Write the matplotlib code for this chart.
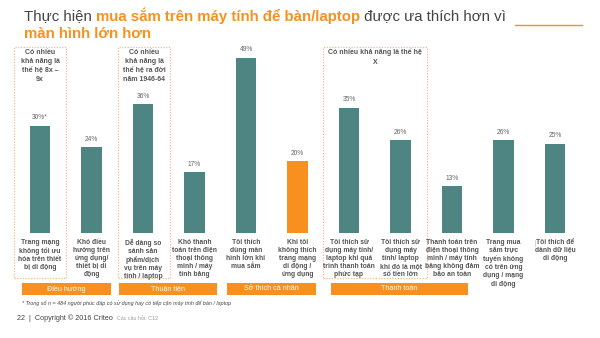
import matplotlib
matplotlib.use("Agg")
import matplotlib.pyplot as plt
from matplotlib.patches import Rectangle
from matplotlib import transforms

plt.rcParams['font.family'] = ['Liberation Sans', 'DejaVu Sans']

# Dữ liệu
values = [30, 24, 36, 17, 49, 20, 35, 26, 13, 26, 25]
value_labels = ["30%*", "24%", "36%", "17%", "49%", "20%", "35%", "26%", "13%", "26%", "25%"]
bar_labels = [
    "Trang mạng\nkhông tối ưu\nhóa trên thiết\nbị di động",
    "Khó điều\nhướng trên\nứng dụng/\nthiết bị di\nđộng",
    "Dễ dàng so\nsánh sản\nphẩm/dịch\nvụ trên máy\ntính / laptop",
    "Khó thanh\ntoán trên điện\nthoại thông\nminh / máy\ntính bảng",
    "Tôi thích\ndùng màn\nhình lớn khi\nmua sắm",
    "Khi tôi\nkhông thích\ntrang mạng\ndi động /\nứng dụng",
    "Tôi thích sử\ndụng máy tính/\nlaptop khi quá\ntrình thanh toán\nphức tạp",
    "Tôi thích sử\ndụng máy\ntính/ laptop\nkhi đó là một\nsố tiền lớn",
    "Thanh toán trên\nđiện thoại thông\nminh / máy tính\nbảng không đảm\nbảo an toàn",
    "Trang mua\nsắm trực\ntuyến không\ncó trên ứng\ndụng / mạng\ndi động",
    "Tôi thích để\ndành dữ liệu\ndi động",
]
highlight = 5
groups = ["Điều hướng", "Thuận tiện", "Sở thích cá nhân", "Thanh toán"]
group_px = [(22, 111), (119, 217), (227, 316), (331, 468)]
gen_notes = [
    "Có nhiều\nkhả năng là\nthế hệ 8x –\n9x",
    "Có nhiều\nkhả năng là\nthế hệ ra đời\nnăm 1946-64",
    "Có nhiều khả năng là thế hệ\nX",
]
gen_box_px = [(14, 66), (118, 170), (323, 427)]

TEAL = "#4E8482"
ORANGE = "#F7901E"
GRAY = "#555555"
W, H = 600, 338

fig = plt.figure(figsize=(6, 3.38), dpi=100)


def fx(px):
    return px / W


def fy(py):
    return 1 - py / H


# truc cot
spacing = 51.5
left_px = 40 - spacing / 2
base_px = 233
ppu = 3.58
ymax = 55
ax = fig.add_axes([fx(left_px), fy(base_px), fx(11 * spacing), ymax * ppu / H])
x = list(range(len(values)))
colors = [ORANGE if i == highlight else TEAL for i in x]
ax.bar(x, values, width=0.39, color=colors)
ax.set_xlim(-0.5, 10.5)
ax.set_ylim(0, ymax)
ax.axis("off")
ax.axhline(0, color="#dddddd", lw=0.6)
for i, v in enumerate(values):
    ax.text(i, v + 1.2, value_labels[i], ha="center", va="bottom", fontsize=4.8, color="#666666")

bt = transforms.blended_transform_factory(ax.transData, fig.transFigure)
for i, lab in enumerate(bar_labels):
    fig.text(i, fy(238.5), lab, transform=bt, ha="center", va="top", fontsize=4.9,
             color=GRAY, fontweight="bold", linespacing=1.22)
fig.add_artist(plt.Line2D([fx(535), fx(535)], [fy(240), fy(246)], color="#cccccc", lw=0.6))

# khung net dut
for (x0, x1), note in zip(gen_box_px, gen_notes):
    r = Rectangle((fx(x0), fy(278)), fx(x1 - x0), (278 - 47) / H, transform=fig.transFigure,
                  fill=False, ec="#EDBE8A", lw=0.9, ls=(0, (1, 1.2)))
    fig.add_artist(r)
    fig.text(fx((x0 + x1) / 2), fy(48.5), note, ha="center", va="top", fontsize=5.0,
             color=GRAY, fontweight="bold", linespacing=1.45)

# nhom
for (x0, x1), g in zip(group_px, groups):
    r = Rectangle((fx(x0), fy(295)), fx(x1 - x0), 12 / H, transform=fig.transFigure,
                  color=ORANGE, lw=0)
    fig.add_artist(r)
    fig.text(fx((x0 + x1) / 2), fy(289), g, ha="center", va="center", fontsize=5.2, color="white")

# tieu de
renderer = fig.canvas.get_renderer()
parts = [("Thực hiện ", "#444444", "normal"),
         ("mua sắm trên máy tính để bàn/laptop", ORANGE, "bold"),
         (" được ưa thích hơn vì", "#444444", "normal")]
cur = fx(24)
for s, c, w in parts:
    t = fig.text(cur, fy(16), s, fontsize=10.8, color=c, fontweight=w, va="center", ha="left")
    bb = t.get_window_extent(renderer)
    cur = cur + bb.width / W
fig.text(fx(24), fy(33.5), "màn hình lớn hơn", fontsize=10.8, color=ORANGE, fontweight="bold", va="center")
fig.add_artist(plt.Line2D([fx(515), fx(582)], [fy(25), fy(25)], color=ORANGE, lw=1))

# chu thich
fig.text(fx(22), fy(303), "* Trong số n = 484 người phúc đáp có sử dụng hay có tiếp cận máy tính để bàn / laptop",
         fontsize=3.9, style="italic", color="#444444", va="center")
fig.text(fx(17), fy(318), "22  |  Copyright © 2016 Criteo", fontsize=5.2, color="#444444", va="center")
fig.text(fx(117), fy(318), "Các câu hỏi: C12", fontsize=3.8, color="#999999", va="center")

fig.savefig("out.png", dpi=100)
